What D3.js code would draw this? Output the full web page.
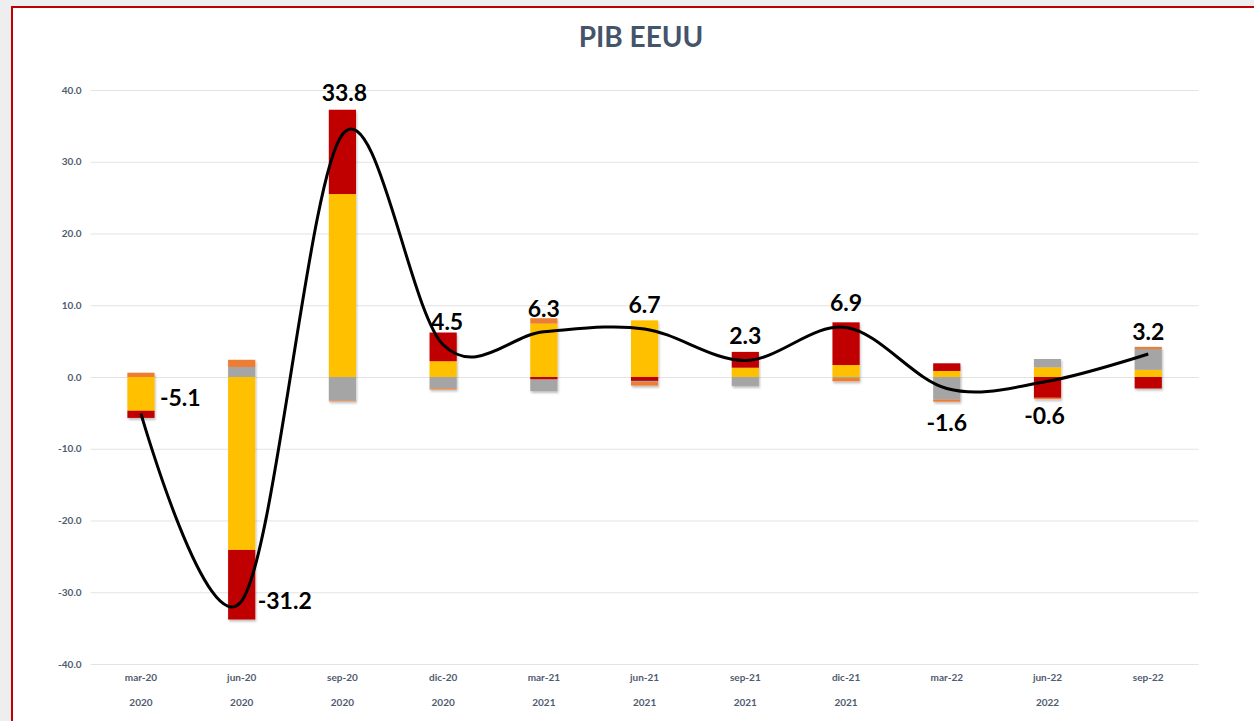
<!DOCTYPE html>
<html>
<head>
<meta charset="utf-8">
<script src="https://cdn.jsdelivr.net/npm/d3@7"></script>
<style>
  body { margin: 0; background: #eeeeee; }
  svg { display: block; }
</style>
</head>
<body>
<svg width="1254" height="721"></svg>
<script>
// quarters
var quarters = ["mar-20", "jun-20", "sep-20", "dic-20", "mar-21", "jun-21", "sep-21", "dic-21", "mar-22", "jun-22", "sep-22"];
var years = ["2020", "2020", "2020", "2020", "2021", "2021", "2021", "2021", "", "2022", ""];

// contributions to growth (pp)
var consumo    = [-4.7, -24.1, 25.5, 2.2, 7.45, 7.9, 1.3, 1.67, 0.84, 1.35, 1.0];
var inversion  = [-1.0, -9.7, 11.75, 4.0, -0.35, -0.55, 2.2, 5.95, 1.07, -2.9, -1.6];
var expNetas   = [0.0, 1.4, -3.3, -1.6, -1.6, -0.15, -1.25, -0.15, -3.16, 1.16, 2.9];
var gasto      = [0.6, 1.0, -0.1, -0.15, 0.74, -0.5, 0.0, -0.45, -0.28, -0.18, 0.3];

// total GDP growth (line + labels)
var pib = [-5.1, -31.2, 33.8, 4.5, 6.3, 6.7, 2.3, 6.9, -1.6, -0.6, 3.2];

var yTicks = [-40, -30, -20, -10, 0, 10, 20, 30, 40];

var keys = ["consumo", "inversion", "expNetas", "gasto"];
var colors = {consumo: "#FFC000", inversion: "#C00000", expNetas: "#A5A5A5", gasto: "#ED7D31"};

var data = quarters.map(function(q, i) {
  return {q: q, consumo: consumo[i], inversion: inversion[i], expNetas: expNetas[i], gasto: gasto[i], pib: pib[i]};
});

// plain hyphen for negatives, like the original
var fmt = d3.formatLocale({decimal: ".", thousands: ",", grouping: [3], currency: ["", ""], minus: "-"}).format(".1f");

var svg = d3.select("svg");

// frame
svg.append("rect").attr("x", 0).attr("y", 0).attr("width", 1254).attr("height", 721).attr("fill", "#eeeeee");
svg.append("rect").attr("x", 11).attr("y", 6).attr("width", 1260).attr("height", 730).attr("fill", "#ffffff");
svg.append("line").attr("x1", 12).attr("x2", 1254).attr("y1", 7).attr("y2", 7)
    .attr("stroke", "#C00000").attr("stroke-width", 2);
svg.append("line").attr("x1", 12).attr("x2", 12).attr("y1", 6).attr("y2", 721)
    .attr("stroke", "#C00000").attr("stroke-width", 2);

var defs = svg.append("defs");
defs.append("filter").attr("id", "shadow")
    .attr("x", "-20%").attr("y", "-20%").attr("width", "150%").attr("height", "150%")
  .append("feDropShadow")
    .attr("dx", 1).attr("dy", 2).attr("stdDeviation", 1.2)
    .attr("flood-color", "#000").attr("flood-opacity", 0.25);

var x = d3.scaleBand()
    .domain(quarters)
    .range([90.6, 1198.6])
    .paddingInner(0.73)
    .paddingOuter(0.365);

var y = d3.scaleLinear()
    .domain([-40, 40])
    .range([664, 90]);

// title
svg.append("text")
    .attr("x", 641)
    .attr("y", 47)
    .attr("text-anchor", "middle")
    .attr("font-family", "Lato, 'Open Sans', sans-serif")
    .attr("font-weight", "bold")
    .attr("font-size", 28)
    .attr("fill", "#44546A")
    .text("PIB EEUU");

// gridlines + y labels
var yAxis = svg.append("g")
    .attr("transform", "translate(90.6,0)")
    .call(d3.axisLeft(y).tickValues(yTicks).tickFormat(fmt).tickSize(-1108).tickPadding(9));
yAxis.select(".domain").remove();
yAxis.selectAll(".tick line").attr("stroke", "#E3E3E3").attr("stroke-width", 1.2);
yAxis.selectAll(".tick text")
    .attr("font-family", "Lato, sans-serif")
    .attr("font-weight", "bold")
    .attr("font-size", 10)
    .attr("fill", "#4F5B6E");

// x labels (two rows)
var xAxis = svg.append("g")
    .attr("transform", "translate(0,664)")
    .call(d3.axisBottom(x).tickSize(0).tickPadding(10));
xAxis.select(".domain").remove();
xAxis.selectAll(".tick text")
    .attr("font-family", "Lato, sans-serif")
    .attr("font-weight", "bold")
    .attr("font-size", 10)
    .attr("fill", "#4F5B6E");

svg.append("g")
  .selectAll("text")
  .data(years)
  .enter().append("text")
    .attr("x", function(d, i) { return x(quarters[i]) + x.bandwidth() / 2; })
    .attr("y", 706)
    .attr("text-anchor", "middle")
    .attr("font-family", "Lato, sans-serif")
    .attr("font-weight", "bold")
    .attr("font-size", 10)
    .attr("fill", "#4F5B6E")
    .text(function(d) { return d; });

// stacked bars
var series = d3.stack().keys(keys).offset(d3.stackOffsetDiverging)(data);

svg.append("g")
    .attr("filter", "url(#shadow)")
  .selectAll("g")
  .data(series)
  .enter().append("g")
    .attr("fill", function(d) { return colors[d.key]; })
  .selectAll("rect")
  .data(function(d) { return d; })
  .enter().append("rect")
    .attr("x", function(d) { return x(d.data.q); })
    .attr("y", function(d) { return y(Math.max(d[0], d[1])); })
    .attr("width", x.bandwidth())
    .attr("height", function(d) { return Math.abs(y(d[0]) - y(d[1])); });

// smoothed total line
var line = d3.line()
    .x(function(d) { return x(d.q) + x.bandwidth() / 2; })
    .y(function(d) { return y(d.pib); })
    .curve(d3.curveCardinal.tension(0));

svg.append("path")
    .datum(data)
    .attr("fill", "none")
    .attr("stroke", "#000")
    .attr("stroke-width", 3)
    .attr("d", line);

// data labels
var labelOffset = [
  {dx: 19, dy: -8, anchor: "start"},
  {dx: 16, dy: 8, anchor: "start"},
  {dx: 2, dy: -33, anchor: "middle"},
  {dx: 4, dy: -15, anchor: "middle"},
  {dx: 0, dy: -15, anchor: "middle"},
  {dx: 0, dy: -16, anchor: "middle"},
  {dx: 0, dy: -16, anchor: "middle"},
  {dx: 0, dy: -16, anchor: "middle"},
  {dx: 0, dy: 43, anchor: "middle"},
  {dx: -3, dy: 43, anchor: "middle"},
  {dx: 0, dy: -14, anchor: "middle"}
];

svg.append("g")
  .selectAll("text")
  .data(data)
  .enter().append("text")
    .attr("x", function(d, i) { return x(d.q) + x.bandwidth() / 2 + labelOffset[i].dx; })
    .attr("y", function(d, i) { return y(d.pib) + labelOffset[i].dy; })
    .attr("text-anchor", function(d, i) { return labelOffset[i].anchor; })
    .attr("font-family", "Lato, sans-serif")
    .attr("font-weight", "bold")
    .attr("font-size", 23)
    .attr("fill", "#000")
    .text(function(d) { return fmt(d.pib); });
</script>
</body>
</html>
